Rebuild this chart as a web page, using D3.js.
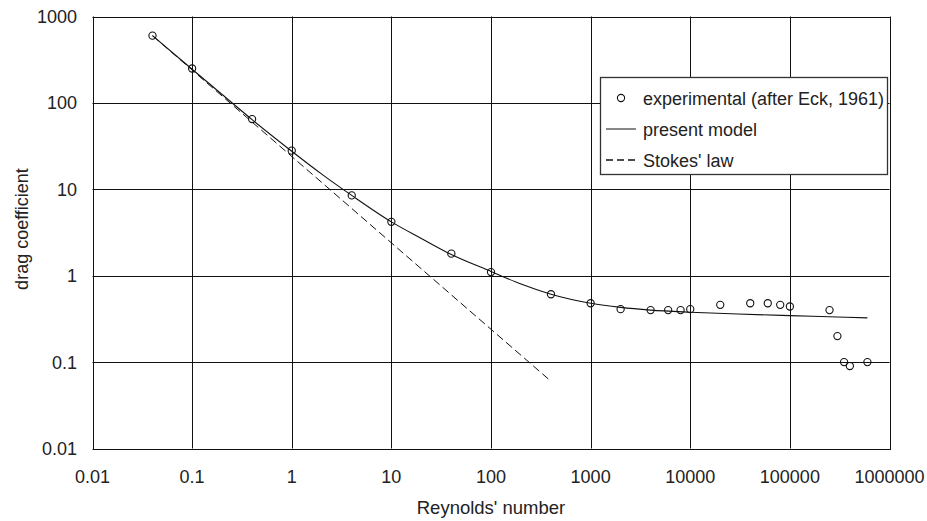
<!DOCTYPE html>
<html>
<head>
<meta charset="utf-8">
<script src="https://cdn.jsdelivr.net/npm/d3@7"></script>
<style>
  body { margin: 0; background: #fff; }
  text { font-family: "Liberation Sans", Arial, sans-serif; fill: #222; }
</style>
</head>
<body>
<svg width="927" height="521"></svg>
<script>
// data
const expRe = [0.04, 0.1, 0.4, 1, 4, 10, 40, 100, 400, 1000, 2000, 4000, 6000, 8000, 10000,
  20000, 40000, 60000, 80000, 100000, 250000, 300000, 350000, 400000, 600000];
const expCd = [600, 250, 65, 28, 8.5, 4.2, 1.8, 1.1, 0.61, 0.48, 0.41, 0.40, 0.40, 0.40, 0.41,
  0.46, 0.48, 0.48, 0.46, 0.44, 0.40, 0.20, 0.10, 0.09, 0.10];

const modelRe = [0.04, 0.1, 0.2, 0.4, 1, 2, 4, 10, 20, 40, 100, 200, 400, 1000, 2000, 4000,
  10000, 30000, 100000, 300000, 600000];
const modelCd = [600, 245, 125, 64, 27.6, 15, 8.5, 4.2, 2.7, 1.76, 1.12, 0.8, 0.61, 0.48, 0.43, 0.40,
  0.378, 0.36, 0.345, 0.333, 0.325];

const stokesRe = [0.04, 400];
const stokesCd = [600, 0.06];

const xTicks = [0.01, 0.1, 1, 10, 100, 1000, 10000, 100000, 1000000];
const yTicks = [0.01, 0.1, 1, 10, 100, 1000];

const legendLabels = ["experimental (after Eck, 1961)", "present model", "Stokes' law"];

// layout
const svg = d3.select("svg");
const plotLeft = 92.5, plotRight = 889.5, plotTop = 16.5, plotBottom = 448.5;

const x = d3.scaleLog().domain([0.01, 1000000]).range([plotLeft, plotRight]);
const y = d3.scaleLog().domain([0.01, 1000]).range([plotBottom, plotTop]);

// grid
svg.append("g")
  .selectAll("line")
  .data(xTicks)
  .enter()
  .append("line")
  .attr("x1", d => Math.round(x(d)) + 0.5)
  .attr("x2", d => Math.round(x(d)) + 0.5)
  .attr("y1", plotTop)
  .attr("y2", plotBottom)
  .attr("stroke", "#111")
  .attr("stroke-width", 1);

svg.append("g")
  .selectAll("line")
  .data(yTicks)
  .enter()
  .append("line")
  .attr("x1", plotLeft)
  .attr("x2", plotRight)
  .attr("y1", d => Math.round(y(d)) + 0.5)
  .attr("y2", d => Math.round(y(d)) + 0.5)
  .attr("stroke", "#111")
  .attr("stroke-width", 1);

svg.append("rect")
  .attr("x", Math.round(plotLeft) + 0.5)
  .attr("y", Math.round(plotTop) + 0.5)
  .attr("width", Math.round(plotRight) - Math.round(plotLeft))
  .attr("height", Math.round(plotBottom) - Math.round(plotTop))
  .attr("fill", "none")
  .attr("stroke", "#111");

// tick labels
const fmt = d => String(d);

svg.append("g")
  .selectAll("text")
  .data(xTicks)
  .enter()
  .append("text")
  .attr("x", d => x(d))
  .attr("y", 483)
  .attr("text-anchor", "middle")
  .attr("font-size", 18)
  .text(fmt);

svg.append("g")
  .selectAll("text")
  .data(yTicks)
  .enter()
  .append("text")
  .attr("x", 77)
  .attr("y", d => y(d) + 6.5)
  .attr("text-anchor", "end")
  .attr("font-size", 18)
  .text(fmt);

// axis titles
svg.append("text")
  .attr("x", (plotLeft + plotRight) / 2)
  .attr("y", 514)
  .attr("text-anchor", "middle")
  .attr("font-size", 18.5)
  .text("Reynolds' number");

svg.append("text")
  .attr("transform", "translate(28,229) rotate(-90)")
  .attr("text-anchor", "middle")
  .attr("font-size", 18)
  .text("drag coefficient");

// series
const line = d3.line()
  .x(d => x(d[0]))
  .y(d => y(d[1]));

svg.append("path")
  .datum(stokesRe.map((r, i) => [r, stokesCd[i]]))
  .attr("d", line)
  .attr("fill", "none")
  .attr("stroke", "#111")
  .attr("stroke-width", 1)
  .attr("stroke-dasharray", "8,4");

svg.append("path")
  .datum(modelRe.map((r, i) => [r, modelCd[i]]))
  .attr("d", line.curve(d3.curveMonotoneX))
  .attr("fill", "none")
  .attr("stroke", "#111")
  .attr("stroke-width", 1.1);

svg.append("g")
  .selectAll("circle")
  .data(expRe.map((r, i) => [r, expCd[i]]))
  .enter()
  .append("circle")
  .attr("cx", d => x(d[0]))
  .attr("cy", d => y(d[1]))
  .attr("r", 3.6)
  .attr("fill", "none")
  .attr("stroke", "#111")
  .attr("stroke-width", 1.1);

// legend
const legend = svg.append("g")
  .attr("transform", "translate(600, 77)");

legend.append("rect")
  .attr("x", 0.5)
  .attr("y", 0.5)
  .attr("width", 287)
  .attr("height", 97)
  .attr("fill", "#fff")
  .attr("stroke", "#333")
  .attr("stroke-width", 1.3);

const rowY = [21, 52, 83];

legend.append("circle")
  .attr("cx", 21)
  .attr("cy", rowY[0])
  .attr("r", 3.6)
  .attr("fill", "none")
  .attr("stroke", "#111")
  .attr("stroke-width", 1.1);

legend.append("line")
  .attr("x1", 6).attr("x2", 36)
  .attr("y1", rowY[1]).attr("y2", rowY[1])
  .attr("stroke", "#111");

legend.append("line")
  .attr("x1", 6).attr("x2", 36)
  .attr("y1", rowY[2]).attr("y2", rowY[2])
  .attr("stroke", "#111")
  .attr("stroke-width", 1.6)
  .attr("stroke-dasharray", "7,4");

legend.selectAll(".label")
  .data(legendLabels)
  .enter()
  .append("text")
  .attr("class", "label")
  .attr("x", 43)
  .attr("y", (d, i) => rowY[i] + 6.5)
  .attr("font-size", 18)
  .text(d => d);
</script>
</body>
</html>
